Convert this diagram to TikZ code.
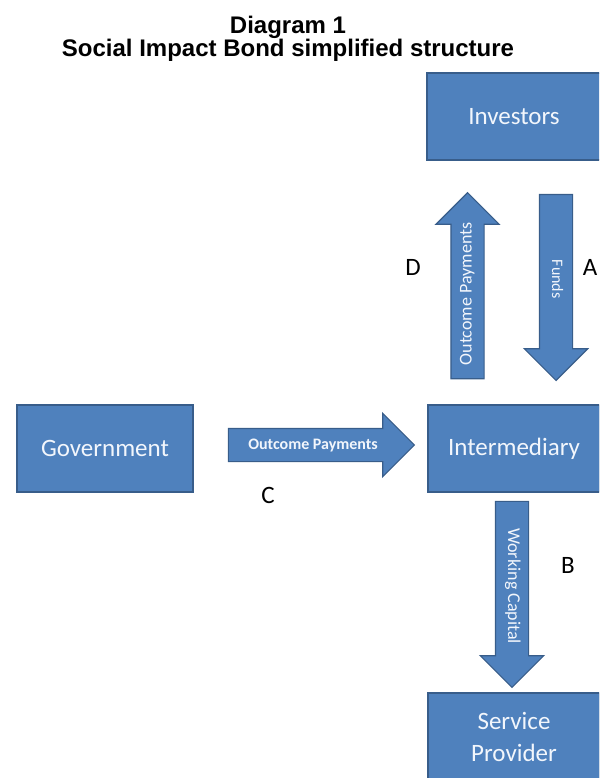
\documentclass[tikz,border=0pt]{standalone}
\usepackage{fontspec}
\setmainfont{Carlito}
\newfontfamily\titlefont{Liberation Sans}
\usepackage{xcolor}
\usetikzlibrary{shapes.arrows,calc,positioning}
\definecolor{boxblue}{HTML}{4F81BD}
\definecolor{boxedge}{HTML}{385D8A}
\definecolor{boxtext}{HTML}{F2F6FC}
\tikzset{
    sib box/.style={draw=boxedge,line width=1.5pt,fill=boxblue,text=boxtext,font=\fontsize{25}{32}\selectfont,minimum height=87pt,inner sep=0pt,align=center},
    sib arrow/.style={single arrow,draw=boxedge,line width=1.2pt,fill=boxblue,text=boxtext,single arrow head extend=15pt,minimum height=186pt,inner xsep=2pt,inner ysep=9pt,text height=11pt,text depth=3pt},
    flow letter/.style={font=\fontsize{25}{30}\selectfont},
    title text/.style={anchor=base,font=\titlefont\bfseries\fontsize{24}{24}\selectfont},
}

\begin{document}
\begin{tikzpicture}[x=1pt,y=1pt]
    \useasboundingbox (0,0) rectangle (599,-778);
    \clip (0,0) rectangle (599,-778);

    \node[title text] (ttl) at (288,-34) {Diagram 1};
    \node[title text] (subttl) at (288,-57) {Social Impact Bond simplified structure};

    % the four parties
    \node[sib box,minimum width=174pt] (inv) at (514,-116.5) {Investors};
    \node[sib box,minimum width=172pt] (inter) at (514,-448.5) {Intermediary};
    \node[sib box,minimum width=176pt] (gov) at (105,-448.5) {Government};
    \node[sib box,minimum width=172pt] (prov) at (514,-736.5) {Service\\Provider};

    % flows
    \node[sib arrow,rotate=90,anchor=tail,font=\fontsize{18}{18}\selectfont] (outpay) at ($(inter.north)+(-46.5,25)$) {Outcome Payments};
    \node[sib arrow,rotate=-90,anchor=tip,font=\fontsize{16}{16}\selectfont] (funds) at ($(inter.north)+(42,23)$) {Funds};
    \node[sib arrow,anchor=tail,font=\bfseries\fontsize{16}{16}\selectfont] (govpay) at ($(gov.east)+(34,3.5)$) {Outcome Payments};
    \node[sib arrow,rotate=-90,anchor=tail,font=\fontsize{18}{18}\selectfont] (wcap) at ($(inter.south)+(-2,-8)$) {Working Capital};

    \node[flow letter] (lD) at (413,-267) {D};
    \node[flow letter] (lA) at (590,-267) {A};
    \node[flow letter] (lC) at (268,-495) {C};
    \node[flow letter] (lB) at (568,-565) {B};
\end{tikzpicture}
\end{document}
